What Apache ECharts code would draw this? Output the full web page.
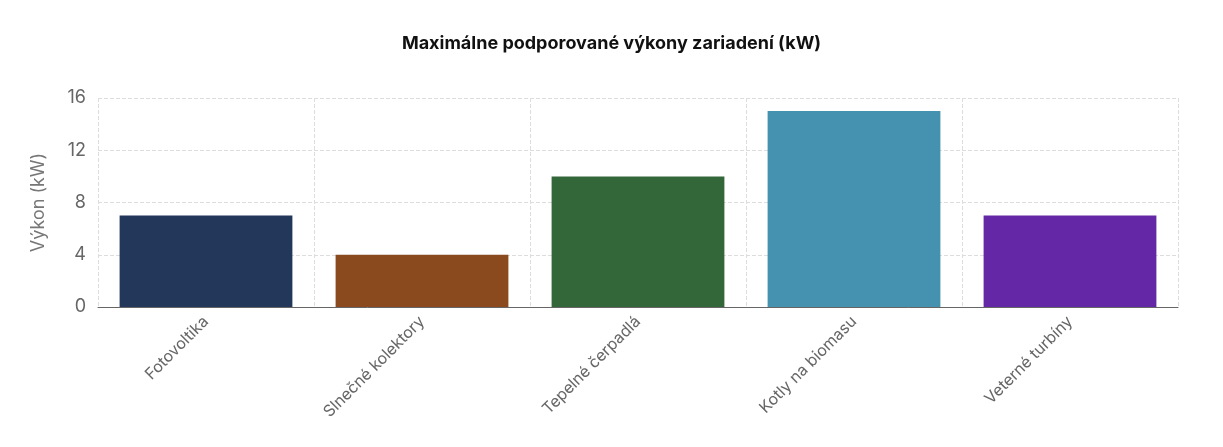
<!DOCTYPE html>
<html><head><meta charset="utf-8">
<script src="https://cdn.jsdelivr.net/npm/echarts@6/dist/echarts.min.js"></script>
<style>html,body{margin:0;padding:0;background:#fff}#c{width:1223px;height:447px}</style>
</head><body><div id="c"></div>
<script>
const categories = ['Fotovoltika','Slnečné kolektory','Tepelné čerpadlá','Kotly na biomasu','Veterné turbíny'];
const values = [7, 4, 10, 15, 7];
const colors = ['#22375a','#8b4a1e','#336638','#4591b0','#6428a6'];
const yTicks = [0,4,8,12,16];
const chart = echarts.init(document.getElementById('c'));
chart.setOption({
  animation:false,
  title:{text:'Maximálne podporované výkony zariadení (kW)',left:'center',top:30,
    textStyle:{fontFamily:'Inter',fontSize:18,fontWeight:'bold',color:'#111'}},
  grid:{left:98,right:45,top:98,bottom:140},
  xAxis:{type:'category',data:categories,
    axisLine:{lineStyle:{color:'#666'}},axisTick:{show:false},
    axisLabel:{rotate:45,fontFamily:'Inter',fontSize:16,color:'#666',margin:12,interval:0},
    splitLine:{show:true,lineStyle:{type:'dashed',color:'#ddd'}}},
  yAxis:{type:'value',min:yTicks[0],max:yTicks[yTicks.length-1],interval:4,
    name:'Výkon (kW)',nameLocation:'middle',nameGap:50,
    nameTextStyle:{fontFamily:'Inter',fontSize:18,color:'#777'},
    axisLine:{show:false},axisTick:{show:false},
    axisLabel:{fontFamily:'Inter',fontSize:18,color:'#666',margin:12},
    splitLine:{lineStyle:{type:'dashed',color:'#ddd'}}},
  series:[{type:'bar',barWidth:'80%',
    data:values.map((v,i)=>({value:v,itemStyle:{color:colors[i]}}))}]
});
</script></body></html>
